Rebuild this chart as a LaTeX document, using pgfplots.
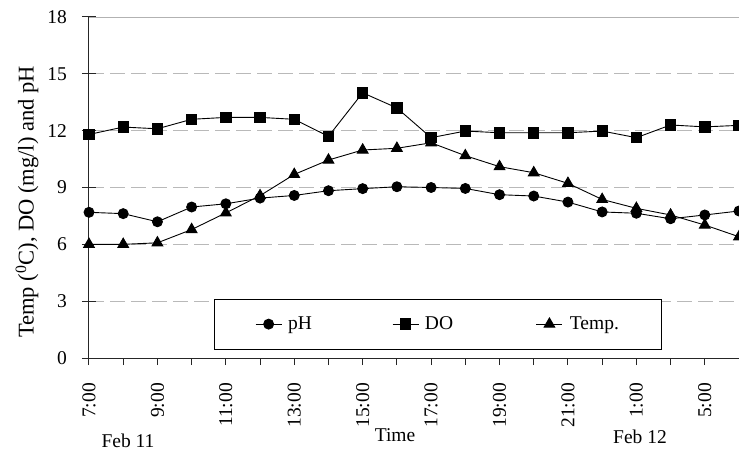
\documentclass[border=0pt]{standalone}
\usepackage{pgfplots}
\usepackage{pgfplotstable}
\pgfplotsset{compat=1.18}
\usepackage{fontspec}
\setmainfont{Liberation Serif}

% hourly / two-hourly readings, plotted at positions 0..19
\pgfplotstableread{
idx  pH    DO     Temp
0    7.69  11.80  6.00
1    7.62  12.19  6.00
2    7.19  12.10  6.08
3    7.97  12.60  6.78
4    8.14  12.70  7.66
5    8.44  12.70  8.57
6    8.58  12.60  9.69
7    8.83  11.70  10.45
8    8.94  14.00  10.98
9    9.04  13.20  11.07
10   9.00  11.63  11.36
11   8.95  11.98  10.68
12   8.62  11.89  10.10
13   8.55  11.89  9.78
14   8.23  11.89  9.22
15   7.71  11.98  8.37
16   7.64  11.63  7.90
17   7.35  12.30  7.55
18   7.55  12.20  7.02
19   7.76  12.28  6.40
}\datatable

\begin{document}
\fontsize{19.5bp}{23bp}\selectfont
\begin{tikzpicture}
\useasboundingbox (-89bp,-99bp) rectangle (650bp,358bp);
\begin{axis}[
  at={(0,0)}, anchor=south west,
  scale only axis, width=650bp, height=341bp,
  xmin=0, xmax=19, ymin=0, ymax=18,
  clip=false,
  axis x line*=bottom, axis y line*=left,
  axis line style={-, black!85, line width=1bp},
  xtick={0,...,19},
  xticklabels={7:00,{},9:00,{},11:00,{},13:00,{},15:00,{},17:00,{},19:00,{},21:00,{},1:00,{},5:00,{}},
  ytick={0,3,...,18},
  /pgf/number format/assume math mode=true,
  tick align=outside, major tick length=7bp,
  tick style={black!85, line width=1bp},
  extra y ticks={0,3,...,18}, extra y tick labels={},
  extra y tick style={tick align=inside, grid=none},
  ymajorgrids,
  major grid style={gray!55, line width=0.8bp, dash pattern=on 15bp off 6bp},
  x tick label style={rotate=90, anchor=east, inner sep=0pt},
  xticklabel shift=18bp,
  y tick label style={anchor=east, inner sep=0pt},
  yticklabel shift=15bp,
  xlabel={Time},
  x label style={at={(axis description cs:0.4708,-0.2463)}, anchor=base, inner sep=0pt},
  ylabel={Temp (\textsuperscript{0}C), DO (mg/l) and pH},
  y label style={at={(axis description cs:-0.0954,0.4575)}, anchor=center, rotate=0,
    inner sep=0pt, font=\fontsize{22.5bp}{26bp}\selectfont},
  legend columns=3,
  legend style={at={(axis description cs:0.1923,0.173)}, anchor=north west,
    draw=black, fill=white, inner xsep=41bp, inner ysep=17bp,
    column sep=0pt, nodes={inner sep=0pt}},
  legend image code/.code={%
    \draw[mark repeat=2,mark phase=2,#1] plot coordinates {(0bp,0bp) (13bp,0bp) (26bp,0bp)};},
  every axis plot/.append style={black, line width=0.9bp},
]
\draw[gray!60, line width=0.9bp] (rel axis cs:0,1) -- (rel axis cs:1,1);
\addplot[mark=*, mark size=5bp, mark options={solid}] table[x=idx, y=pH] {\datatable};
\addlegendentry{\hspace*{6bp}\makebox[104bp][l]{pH}}
\addplot[mark=square*, mark size=5.2bp, mark options={solid}] table[x=idx, y=DO] {\datatable};
\addlegendentry{\hspace*{6bp}\makebox[111bp][l]{DO}}
\addplot[mark=triangle*, mark size=6.2bp, mark options={solid}] table[x=idx, y=Temp] {\datatable};
\addlegendentry{\hspace*{7bp}\makebox[50bp][l]{Temp.}}
\node[anchor=base] at (axis description cs:0.06,-0.2639) {Feb 11};
\node[anchor=base] at (axis description cs:0.8477,-0.2493) {Feb 12};
\end{axis}
\end{tikzpicture}
\end{document}
